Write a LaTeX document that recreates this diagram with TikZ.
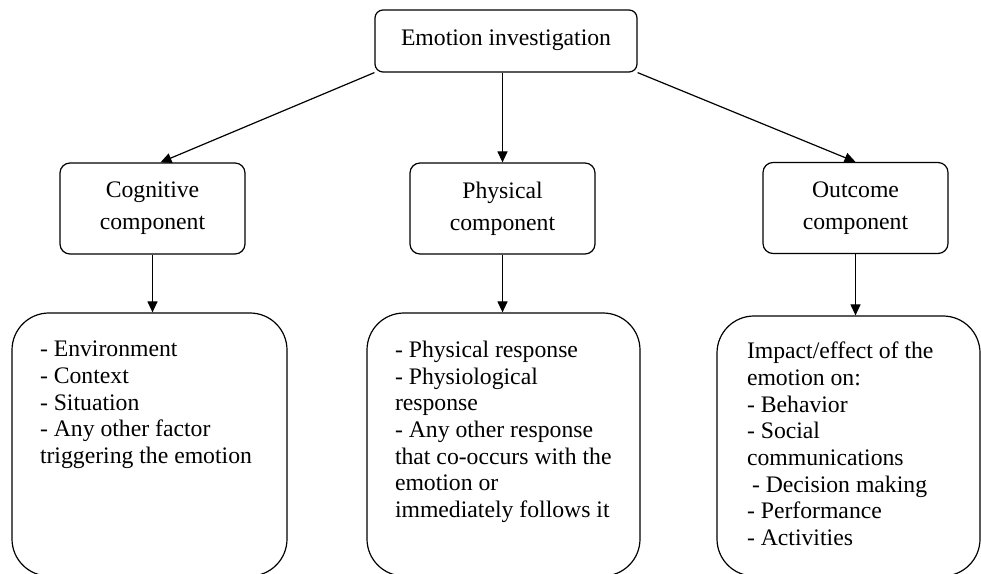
\documentclass[tikz,border=0pt]{standalone}
\usepackage{fontspec}
\setmainfont{Liberation Serif}
\usetikzlibrary{positioning,arrows.meta}

\begin{document}
\begin{tikzpicture}[x=1pt,y=1pt,
    box/.style={draw, line width=1.2pt, rounded corners=10pt, align=center, minimum width=185pt, minimum height=91pt, font=\fontsize{23.7}{32}\selectfont},
    listbox/.style={draw, line width=1.2pt, rounded corners=37pt, inner ysep=0pt, font=\fontsize{23.7}{26.7}\selectfont},
    arr/.style={-{Triangle[length=11pt,width=10pt]}, line width=1.2pt}]
          \fill[white] (0,0) rectangle (981,573);
          \useasboundingbox (0,0) rectangle (981,573);
          \clip (0,0) rectangle (981,573);
          \node[box, minimum width=262pt, minimum height=62pt, rounded corners=8pt] (top) at (506,532) {Emotion investigation\rule[-6pt]{0pt}{6pt}};
          \node[box] (cog) at (152.5,364.5) {Cognitive\\component};
          \node[box] (phys) at (502.5,364.5) {Physical\\component};
          \node[box] (out) at (855.5,365) {Outcome\\component};
          \node[listbox, inner xsep=28pt] (cogl) at (149.5,128.5) {\parbox[c][263pt][t]{219pt}{\raggedright\vspace*{28pt}%
            - Environment\\- Context\\- Situation\\- Any other factor\\triggering the emotion}};
          \node[listbox, inner xsep=28pt] (physl) at (503.5,128.5) {\parbox[c][263pt][t]{217pt}{\raggedright\vspace*{28pt}%
            - Physical response\\- Physiological\\response\\- Any other response\\that co-occurs with the\\emotion or\\immediately follows it}};
          \node[listbox, inner xsep=30pt] (outl) at (848.5,127) {\parbox[c][260pt][t]{203pt}{\raggedright\vspace*{26pt}%
            Impact/effect of the\\emotion on:\\- Behavior\\- Social\\communications\\\hspace*{5pt}- Decision making\\- Performance\\- Activities}};
          \draw[arr] (top.south west) -- ([xshift=8pt]cog.north);
          \draw[arr] (phys.north |- top.south) -- (phys.north);
          \draw[arr] (top.south east) -- (out.north);
          \draw[arr] (cog.south) -- (cog.south |- cogl.north);
          \draw[arr] (phys.south) -- (phys.south |- physl.north);
          \draw[arr] (out.south) -- (out.south |- outl.north);
    \end{tikzpicture}
\end{document}
